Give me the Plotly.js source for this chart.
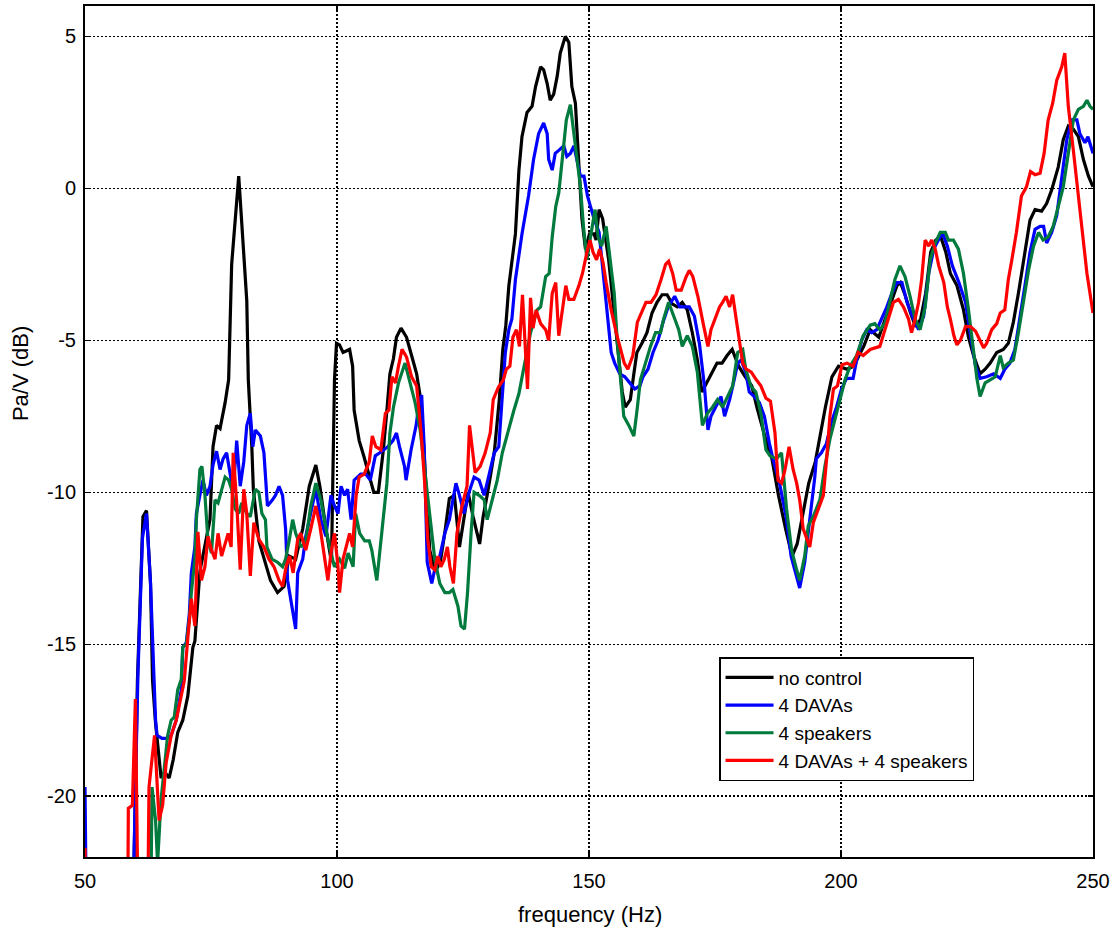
<!DOCTYPE html>
<html>
<head>
<meta charset="utf-8">
<script src="https://cdn.plot.ly/plotly-3.0.1.min.js"></script>
<style>html,body{margin:0;padding:0;background:#fff}#chart{width:1116px;height:932px}</style>
</head>
<body>
<div id="chart"></div>
<script>
// Data: [frequency (Hz), level (dB)] pairs
const noControl = [[50,-26],[59.3,-26],[60.4,-16.2],[61.5,-10.8],[62.2,-10.6],[63.0,-13.0],[63.4,-16.2],[64.0,-17.6],[65.1,-19.4],[65.8,-19.2],[66.7,-19.4],[67.5,-18.8],[68.4,-17.9],[69.4,-17.5],[70.4,-16.7],[71.4,-15.1],[71.8,-14.9],[72.8,-12.6],[74.8,-10.9],[75.4,-8.5],[76.1,-7.8],[76.8,-7.9],[77.8,-7.05],[78.5,-6.3],[79.1,-2.5],[80.5,0.4],[82.1,-3.7],[82.4,-6.3],[83.1,-8.5],[83.4,-9.9],[84.5,-11.6],[85.5,-12.2],[86.8,-12.9],[88.2,-13.3],[89.5,-13.1],[90.5,-12.1],[91.8,-12.2],[93.2,-11.2],[94.5,-9.8],[95.8,-9.1],[96.6,-9.8],[97.8,-11.2],[98.9,-12.3],[99.5,-6.3],[99.9,-5.1],[100.5,-5.15],[101.2,-5.4],[102.5,-5.3],[103.1,-5.85],[103.4,-7.3],[104.4,-8.3],[105.3,-8.8],[106.3,-9.4],[107.3,-10.0],[108.2,-10.0],[109.2,-8.6],[109.9,-7.3],[110.5,-6.1],[111.2,-5.6],[111.8,-4.9],[112.7,-4.6],[113.8,-4.9],[114.8,-5.5],[115.8,-6.1],[116.7,-7.05],[117.7,-9.7],[118.4,-11.9],[119.5,-12.6],[120.5,-12.3],[121.5,-11.2],[122.3,-10.2],[123.3,-10.1],[124.0,-11.3],[124.3,-11.8],[126.0,-10.0],[127.0,-10.8],[128.3,-11.7],[129.0,-10.8],[129.9,-10.0],[131.2,-8.7],[132.2,-6.95],[132.9,-5.3],[133.5,-4.5],[134.1,-3.2],[135.4,-1.5],[136.1,0.6],[136.7,1.7],[137.7,2.5],[138.7,2.7],[139.4,3.35],[140.4,4.0],[141.0,3.9],[141.7,3.45],[142.3,2.9],[143.0,3.1],[143.7,3.7],[144.3,4.45],[145.3,5.0],[146.0,4.8],[146.6,3.35],[147.3,2.8],[147.9,0.85],[148.6,-1.0],[149.3,-2.0],[150.1,-1.5],[151.0,-1.5],[151.4,-1.7],[152.0,-0.7],[152.7,-1.0],[153.9,-2.35],[154.9,-4.0],[155.9,-5.4],[156.6,-6.7],[157.2,-7.2],[158.2,-6.95],[158.9,-6.1],[159.5,-5.4],[160.5,-5.1],[161.5,-4.75],[162.5,-4.1],[163.5,-3.75],[164.5,-3.5],[165.5,-3.5],[166.5,-3.8],[167.5,-3.9],[168.5,-3.75],[169.5,-4.0],[170.5,-4.75],[171.5,-5.65],[172.4,-6.7],[173.4,-6.4],[174.4,-6.1],[175.4,-5.75],[176.4,-5.75],[177.4,-5.5],[178.4,-5.3],[179.7,-5.85],[181.0,-6.2],[182.3,-6.5],[183.3,-7.2],[184.3,-7.8],[185.3,-8.4],[186.3,-8.9],[187.6,-10.1],[189.0,-11.2],[190.3,-12.1],[191.3,-11.7],[192.3,-10.8],[193.6,-9.7],[194.9,-9.0],[195.9,-8.05],[196.9,-7.2],[198.2,-6.2],[199.5,-5.85],[201.2,-5.95],[202.5,-5.85],[204.5,-5.2],[205.8,-4.65],[207.5,-4.9],[208.8,-4.3],[210.1,-3.65],[211.1,-3.2],[211.8,-3.1],[212.8,-3.55],[213.8,-4.1],[214.8,-4.55],[215.8,-4.3],[216.8,-3.45],[217.8,-2.1],[218.8,-1.7],[219.8,-1.6],[220.8,-2.1],[221.7,-2.8],[223.0,-3.2],[224.3,-4.0],[225.3,-4.9],[226.3,-5.5],[227.6,-6.1],[228.6,-5.95],[229.6,-5.75],[230.9,-5.4],[232.2,-5.3],[233.2,-5.1],[234.2,-4.4],[235.2,-3.45],[236.2,-2.35],[237.5,-1.05],[238.5,-0.7],[239.8,-0.75],[240.8,-0.5],[241.8,-0.05],[243.1,0.7],[244.1,1.6],[245.1,2.05],[246.1,1.95],[247.1,1.7],[248.1,0.95],[249.1,0.4],[250,0.05]];

const davas = [[50,-19.7],[50.4,-26],[59.2,-26],[59.9,-20.5],[60.5,-16],[61.4,-11.5],[62.2,-10.7],[63.0,-13],[63.5,-15.5],[64.0,-17.5],[64.3,-18.0],[65.3,-18.1],[66.2,-18.1],[67.1,-18.0],[68.1,-17.5],[69.1,-16.5],[69.4,-15.1],[70.1,-14.95],[70.7,-14.0],[71.1,-12.65],[71.8,-11.8],[72.1,-10.7],[72.8,-10.1],[73.4,-9.6],[74.1,-10.1],[74.8,-9.8],[75.4,-9.1],[76.1,-8.65],[76.8,-9.25],[77.4,-8.9],[78.1,-8.7],[78.8,-9.35],[79.4,-10.0],[80.1,-8.3],[80.8,-9.8],[81.5,-9.0],[82.1,-7.8],[82.8,-7.4],[83.3,-8.5],[83.8,-7.95],[84.8,-8.15],[85.5,-8.7],[86.2,-10.45],[87.2,-10.25],[87.8,-10.1],[88.5,-9.8],[89.2,-10.1],[89.8,-11.2],[90.2,-12.9],[90.8,-13.5],[91.8,-14.5],[92.2,-12.65],[93.2,-12.2],[93.8,-11.45],[94.8,-10.7],[95.8,-9.9],[96.8,-10.9],[97.8,-11.45],[98.8,-10.1],[99.5,-10.45],[100.2,-10.7],[100.8,-9.8],[101.5,-10.1],[102.1,-9.9],[102.8,-10.9],[103.4,-9.6],[104.7,-9.4],[105.7,-9.4],[106.6,-9.6],[107.6,-8.8],[108.5,-8.7],[109.2,-8.6],[110.1,-8.5],[111.1,-8.3],[111.8,-8.05],[112.4,-8.5],[113.4,-9.15],[113.7,-9.6],[114.7,-8.6],[115.7,-7.8],[116.3,-7.05],[116.8,-6.8],[117.3,-8.5],[117.9,-12.3],[118.8,-13.0],[119.5,-12.45],[120.4,-12.1],[121.4,-11.35],[122.3,-10.9],[123.0,-10.25],[123.6,-9.7],[124.3,-10.1],[125.2,-10.7],[126.2,-10.0],[127.2,-9.5],[128.2,-9.6],[129.2,-10.1],[130.2,-9.4],[131.2,-8.7],[132.1,-8.5],[132.8,-6.75],[133.4,-5.4],[134.1,-4.65],[134.7,-4.3],[135.4,-3.0],[136.7,-1.5],[138.0,-0.25],[139.0,0.95],[140.0,1.8],[141.0,2.15],[141.7,1.8],[142.0,0.95],[142.7,0.6],[143.3,1.15],[144.0,1.25],[145.0,1.4],[145.6,1.05],[146.3,1.15],[147.0,1.4],[147.6,0.95],[148.3,0.4],[149.0,0.4],[149.7,-0.25],[150.3,-0.6],[151.0,-1.0],[152.0,-1.45],[152.7,-2.7],[153.4,-3.75],[154.4,-5.4],[155.1,-5.75],[156.1,-6.1],[157.1,-6.2],[158.1,-6.4],[159.1,-6.6],[160.1,-6.5],[160.7,-6.2],[161.7,-5.95],[162.7,-5.4],[163.7,-5.0],[164.7,-4.4],[165.7,-3.9],[167.0,-3.55],[168.0,-3.9],[169.9,-3.9],[170.9,-4.2],[171.9,-5.1],[172.9,-6.5],[173.6,-7.95],[174.2,-7.5],[175.2,-7.2],[176.2,-6.85],[176.9,-7.5],[177.9,-6.95],[178.8,-6.3],[179.5,-5.75],[180.2,-5.65],[181.1,-6.05],[181.8,-6.7],[182.8,-6.85],[183.8,-7.05],[184.8,-7.5],[185.8,-8.4],[186.5,-8.9],[187.8,-9.7],[189.1,-10.8],[190.1,-12.1],[191.1,-12.75],[191.8,-13.15],[192.8,-12.3],[193.8,-11.0],[194.8,-9.5],[195.1,-8.9],[196.1,-8.7],[197.1,-8.4],[198.1,-7.7],[199.1,-7.2],[200.1,-6.6],[201.1,-6.25],[202.4,-6.25],[203.1,-5.65],[204.1,-5.0],[205.1,-4.65],[206.1,-4.75],[207.1,-4.65],[208.1,-4.3],[209.1,-3.9],[210.1,-3.45],[211.1,-3.1],[212.1,-3.1],[213.1,-3.75],[214.4,-4.3],[215.4,-4.65],[216.4,-4.2],[217.4,-2.8],[218.4,-2.0],[219.4,-1.7],[220.1,-1.45],[221.1,-1.9],[222.1,-2.55],[223.4,-3.1],[224.7,-3.75],[225.7,-4.85],[226.7,-5.85],[227.6,-6.25],[228.9,-6.2],[230.3,-6.1],[231.6,-6.25],[232.5,-5.95],[233.5,-5.75],[234.5,-5.3],[235.5,-4.3],[236.5,-3.2],[237.5,-2.1],[238.5,-1.35],[239.5,-1.25],[240.2,-1.25],[240.8,-1.8],[241.8,-1.45],[242.8,-0.9],[243.8,0.3],[244.8,1.6],[245.8,2.25],[246.8,2.25],[247.4,1.8],[248.4,1.5],[249.0,1.7],[250,1.15]];

const speakers = [[62.9,-26],[63.3,-19.7],[64.0,-20.8],[64.4,-22.2],[65.1,-20.1],[65.7,-19.0],[66.4,-18.0],[67.1,-17.5],[67.7,-17.4],[68.4,-16.5],[69.1,-16.15],[69.4,-15.1],[70.1,-15.0],[70.7,-14.2],[71.1,-13.3],[71.8,-12.2],[72.1,-10.9],[72.8,-9.25],[73.2,-9.15],[73.8,-10.1],[74.4,-11.6],[75.1,-12.0],[75.8,-10.25],[76.4,-10.35],[77.1,-9.9],[77.8,-9.5],[78.5,-9.6],[79.1,-9.9],[79.8,-10.55],[80.5,-10.7],[81.1,-10.35],[82.1,-10.7],[82.8,-10.8],[83.8,-9.9],[84.5,-10.0],[85.1,-10.7],[85.8,-10.9],[86.1,-11.8],[87.1,-12.2],[88.2,-12.3],[89.2,-12.45],[89.8,-12.2],[90.5,-11.6],[91.2,-10.9],[91.8,-11.35],[92.8,-11.8],[93.8,-11.6],[94.8,-10.45],[95.8,-9.7],[96.8,-10.25],[97.5,-10.9],[98.5,-11.8],[99.5,-12.45],[100.5,-12.2],[101.5,-12.5],[102.2,-12.0],[103.2,-12.45],[103.7,-10.7],[104.5,-11.35],[105.5,-11.6],[106.4,-11.6],[106.9,-11.9],[107.9,-12.9],[108.9,-11.35],[109.9,-9.7],[110.5,-8.05],[111.2,-7.2],[112.2,-6.4],[113.5,-5.75],[114.5,-6.4],[115.5,-7.05],[116.5,-7.95],[117.5,-9.35],[118.5,-10.9],[119.4,-12.2],[120.4,-13.0],[121.4,-13.3],[122.3,-13.3],[123.0,-13.2],[124.0,-13.75],[124.6,-14.4],[125.3,-14.5],[125.9,-13.3],[126.6,-11.35],[127.2,-10.0],[128.2,-10.1],[129.2,-10.25],[129.8,-10.9],[130.8,-10.25],[131.8,-9.6],[132.8,-8.7],[133.8,-8.05],[135.1,-7.3],[136.1,-6.75],[137.1,-5.85],[138.4,-4.75],[139.7,-4.0],[140.4,-3.9],[141.4,-2.9],[142.1,-2.8],[142.7,-1.6],[143.4,-0.6],[144.0,-0.15],[144.7,0.95],[145.5,2.25],[146.3,2.75],[147.0,1.8],[147.6,0.95],[148.3,0.05],[148.9,-1.25],[149.6,-2.35],[150.2,-1.7],[151.2,-0.7],[151.8,-1.6],[152.5,-1.9],[153.4,-1.25],[154.0,-2.1],[155.0,-3.45],[155.6,-5.0],[156.2,-6.3],[156.9,-7.5],[157.9,-7.8],[158.9,-8.15],[159.6,-7.2],[160.2,-6.3],[161.2,-5.75],[162.2,-5.2],[163.2,-4.75],[164.2,-4.75],[164.8,-4.3],[165.8,-3.75],[166.8,-4.2],[167.8,-4.65],[168.5,-5.2],[169.5,-4.85],[170.5,-5.2],[171.5,-6.05],[172.5,-7.8],[173.5,-7.4],[174.5,-7.2],[175.5,-6.95],[176.5,-7.2],[177.5,-6.85],[178.5,-6.5],[179.5,-5.4],[180.5,-5.3],[181.1,-5.95],[182.1,-6.5],[183.1,-6.7],[184.1,-7.4],[185.1,-8.6],[185.9,-8.8],[187.2,-8.9],[188.2,-8.7],[189.2,-10.55],[190.2,-11.9],[191.2,-12.55],[191.8,-12.9],[192.8,-12.1],[193.5,-11.1],[194.5,-10.8],[195.8,-10.25],[196.8,-9.15],[197.8,-8.25],[198.8,-7.6],[199.8,-6.95],[200.8,-6.3],[201.8,-5.85],[203.1,-5.5],[204.4,-4.85],[205.8,-4.5],[206.7,-4.45],[207.7,-4.65],[208.7,-4.45],[209.7,-3.75],[210.7,-3.0],[211.7,-2.55],[212.7,-2.9],[213.7,-3.55],[214.7,-4.3],[215.7,-4.65],[216.7,-3.9],[217.7,-2.35],[218.7,-1.8],[219.7,-1.45],[220.7,-1.45],[221.3,-1.7],[222.3,-1.7],[223.3,-2.0],[224.3,-2.8],[225.3,-4.0],[226.3,-5.4],[227.0,-6.3],[227.6,-6.85],[228.6,-6.4],[229.6,-6.3],[230.6,-6.2],[231.6,-5.5],[232.2,-5.9],[233.2,-5.75],[234.2,-5.65],[235.2,-4.75],[236.2,-3.65],[237.2,-2.7],[238.2,-1.9],[239.2,-1.45],[240.1,-1.7],[241.1,-1.6],[242.1,-1.25],[243.1,-0.6],[244.1,0.05],[245.1,1.15],[246.1,2.25],[247.1,2.6],[248.1,2.7],[248.8,2.9],[249.4,2.7],[250,2.6]];

const davasSpeakers = [[50,-21.7],[50.4,-26],[58.4,-26],[58.6,-20.4],[59.4,-20.3],[60.0,-16.8],[60.7,-26],[62.3,-26],[62.7,-19.7],[63.4,-18.6],[63.8,-18.0],[64.7,-20.8],[65.4,-20.3],[66.1,-18.9],[67.1,-18.0],[68.1,-17.5],[69.1,-16.6],[69.7,-16.2],[70.4,-14.8],[71.1,-13.5],[71.8,-14.4],[72.4,-11.3],[73.1,-12.9],[73.8,-12.45],[74.4,-11.45],[75.1,-11.9],[75.8,-12.2],[76.4,-11.35],[77.1,-12.1],[77.8,-11.65],[78.4,-11.35],[79.0,-11.8],[79.4,-8.7],[80.1,-10.35],[80.8,-12.55],[81.5,-9.9],[82.1,-10.7],[82.8,-12.75],[83.5,-11.0],[84.5,-11.55],[85.5,-11.8],[86.5,-12.2],[87.5,-12.45],[88.5,-12.9],[89.2,-13.1],[89.9,-12.45],[90.6,-12.1],[91.3,-12.65],[92.2,-11.55],[92.8,-11.35],[93.8,-11.9],[94.8,-11.2],[95.8,-10.45],[96.6,-11.1],[97.5,-12.2],[98.2,-12.9],[98.8,-12.0],[99.5,-11.35],[100.2,-12.45],[100.5,-13.3],[101.2,-12.2],[101.8,-11.8],[102.5,-11.35],[103.1,-11.8],[103.8,-10.1],[104.4,-9.5],[105.4,-9.4],[106.4,-9.0],[107.0,-8.15],[107.7,-8.5],[108.7,-8.6],[109.6,-7.4],[110.3,-7.3],[110.9,-6.2],[111.6,-6.4],[112.2,-5.85],[112.9,-5.3],[113.8,-5.55],[114.8,-6.2],[115.8,-6.5],[116.7,-8.05],[117.4,-9.7],[118.0,-11.55],[118.7,-12.45],[119.4,-12.55],[120.0,-12.1],[120.6,-12.45],[121.3,-12.2],[121.9,-11.8],[122.4,-12.45],[123.1,-13.0],[123.8,-11.35],[124.8,-10.45],[125.8,-9.8],[126.3,-7.8],[127.4,-9.35],[128.4,-9.15],[129.4,-8.7],[130.4,-8.05],[131.0,-6.95],[132.0,-6.55],[133.0,-6.3],[133.6,-5.95],[134.3,-5.85],[134.9,-4.9],[135.6,-4.65],[136.2,-5.2],[136.8,-3.5],[137.3,-5.0],[137.8,-6.6],[138.4,-3.6],[138.9,-4.6],[139.5,-4.0],[140.4,-4.45],[141.4,-4.65],[142.0,-5.0],[142.7,-3.45],[143.4,-3.1],[144.0,-4.85],[144.7,-4.0],[145.4,-3.2],[146.0,-3.65],[147.0,-3.65],[148.0,-3.2],[148.7,-2.8],[149.6,-2.1],[150.2,-1.7],[150.8,-2.1],[151.5,-2.35],[152.1,-2.0],[152.8,-2.45],[153.4,-3.1],[154.4,-4.0],[155.4,-4.75],[156.4,-5.4],[157.0,-5.75],[157.7,-5.95],[158.7,-5.5],[159.6,-4.4],[160.4,-4.1],[161.3,-3.75],[162.3,-3.75],[163.3,-3.5],[164.3,-3.0],[165.2,-2.5],[165.8,-2.4],[166.6,-2.8],[167.3,-3.35],[168.3,-3.35],[169.3,-2.9],[169.9,-2.7],[170.6,-2.9],[171.6,-3.55],[172.6,-4.4],[173.6,-5.2],[174.2,-4.65],[175.2,-4.2],[175.9,-3.9],[176.5,-3.75],[177.2,-3.55],[177.9,-3.9],[178.5,-3.5],[179.2,-4.3],[179.9,-5.0],[180.5,-5.75],[181.2,-5.95],[182.2,-6.05],[183.2,-6.3],[184.1,-6.5],[185.1,-6.9],[186.0,-7.0],[186.9,-8.05],[187.5,-9.6],[188.2,-9.7],[188.9,-9.25],[189.7,-8.5],[190.5,-9.25],[191.2,-9.7],[191.8,-10.25],[192.5,-11.2],[193.2,-11.55],[193.8,-11.8],[194.5,-11.0],[195.5,-10.55],[196.5,-10.1],[197.2,-8.8],[197.8,-7.5],[198.5,-6.6],[199.3,-6.5],[200.2,-5.8],[201.2,-5.75],[202.4,-5.85],[203.4,-5.4],[204.4,-5.5],[205.8,-5.3],[207.7,-5.2],[208.7,-4.65],[209.4,-4.3],[210.4,-3.75],[211.4,-3.65],[212.4,-3.9],[213.4,-4.3],[214.0,-4.75],[214.7,-4.3],[215.4,-3.75],[216.0,-3.0],[216.7,-1.7],[217.4,-1.9],[218.0,-1.7],[218.7,-2.0],[219.4,-2.55],[220.4,-3.1],[221.1,-3.9],[221.7,-4.3],[222.4,-4.85],[223.0,-5.15],[223.7,-5.0],[224.7,-4.55],[225.7,-4.55],[226.7,-4.7],[227.6,-5.0],[228.3,-5.25],[228.9,-5.1],[229.9,-4.65],[230.9,-4.45],[231.6,-4.1],[232.5,-4.0],[233.2,-3.0],[233.9,-2.35],[234.8,-1.45],[235.8,-0.25],[236.8,0.05],[237.6,0.55],[238.5,0.45],[239.5,0.5],[240.3,1.15],[241.1,2.25],[242.0,2.8],[242.8,3.55],[243.8,4.0],[244.4,4.45],[245.1,2.7],[246.1,1.25],[247.1,-0.25],[248.1,-1.7],[248.8,-2.8],[249.4,-3.45],[250,-4.1]];

const seriesNames = ['no control', '4 DAVAs', '4 speakers', '4 DAVAs + 4 speakers'];
const seriesColors = ['#000000', '#0000ff', '#007a3d', '#ff0000'];
const xTickVals = [50, 100, 150, 200, 250];
const xTickText = ['50', '100', '150', '200', '250'];
const yTickVals = [-20, -15, -10, -5, 0, 5];
const yTickText = ['-20', '-15', '-10', '-5', '0', '5'];
const xTitle = 'frequency (Hz)';
const yTitle = 'Pa/V (dB)';

const allSeries = [noControl, davas, speakers, davasSpeakers];
const traces = allSeries.map((s, i) => ({
  x: s.map(p => p[0]),
  y: s.map(p => p[1]),
  type: 'scatter',
  mode: 'lines',
  name: seriesNames[i],
  line: {color: seriesColors[i], width: 3.2},
  hoverinfo: 'skip'
}));

const FONT = 'Liberation Sans, Arial, sans-serif';
const axisCommon = {
  showline: true, linecolor: '#000', linewidth: 2, mirror: 'ticks',
  ticks: 'inside', ticklen: 5, tickwidth: 1.5, tickcolor: '#000',
  showgrid: true, gridcolor: '#000', gridwidth: 1.5, griddash: '2px,2px',
  zeroline: false, tickfont: {family: FONT, size: 20, color: '#000'},
  tickmode: 'array', fixedrange: true
};

const layout = {
  width: 1116, height: 932,
  margin: {l: 85, r: 23, t: 6, b: 75, pad: 0},
  paper_bgcolor: '#fff', plot_bgcolor: '#fff',
  font: {family: FONT, color: '#000'},
  showlegend: true,
  xaxis: Object.assign({}, axisCommon, {range: [50, 250], tickvals: xTickVals, ticktext: xTickText, ticklabelstandoff: 5}),
  yaxis: Object.assign({}, axisCommon, {range: [-22, 6], tickvals: yTickVals, ticktext: yTickText, ticklabelstandoff: 3}),
  legend: {
    x: 0.629, y: 0.235, xanchor: 'left', yanchor: 'top',
    bgcolor: '#fff', bordercolor: '#000', borderwidth: 1.5,
    font: {family: FONT, size: 19, color: '#000'},
    tracegroupgap: 0, itemwidth: 48
  },
  annotations: [
    {text: xTitle, xref: 'paper', yref: 'paper', x: 0.501, y: -0.068, xanchor: 'center', yanchor: 'middle', showarrow: false, font: {family: FONT, size: 22, color: '#000'}},
    {text: yTitle, xref: 'paper', yref: 'paper', x: -0.064, y: 0.568, xanchor: 'center', yanchor: 'middle', textangle: -90, showarrow: false, font: {family: FONT, size: 22, color: '#000'}}
  ]
};

Plotly.newPlot('chart', traces, layout, {staticPlot: true, displayModeBar: false});
</script>
</body>
</html>
